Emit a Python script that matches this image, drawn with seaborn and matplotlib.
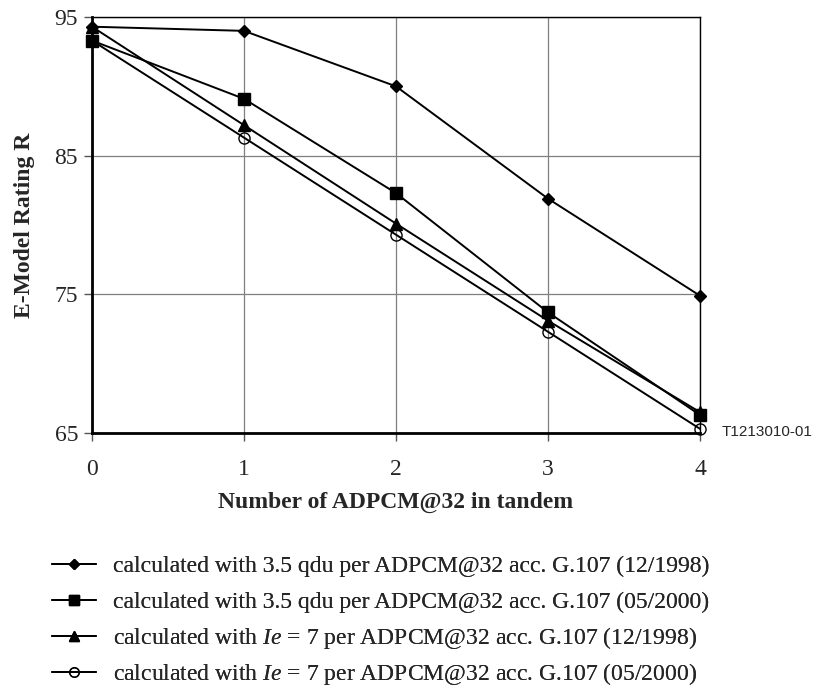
import matplotlib
matplotlib.use('Agg')
import matplotlib.pyplot as plt
import seaborn as sns
import pandas as pd

# data
tandem = [0, 1, 2, 3, 4]
qdu_1998 = [94.3, 94.0, 90.0, 81.9, 74.9]
qdu_2000 = [93.3, 89.1, 82.3, 73.7, 66.3]
ie_1998 = [94.3, 87.2, 80.1, 73.1, 66.5]
ie_2000 = [93.3, 86.3, 79.3, 72.3, 65.3]

labels = [
    'calculated with 3.5 qdu per ADPCM@32 acc. G.107 (12/1998)',
    'calculated with 3.5 qdu per ADPCM@32 acc. G.107 (05/2000)',
    'calculated with $Ie$ = 7 per ADPCM@32 acc. G.107 (12/1998)',
    'calculated with $Ie$ = 7 per ADPCM@32 acc. G.107 (05/2000)',
]
series = [qdu_1998, qdu_2000, ie_1998, ie_2000]
markers = ['D', 's', '^', 'o']
msizes = [6, 8, 8, 8]
facecolors = ['black', 'black', 'black', 'none']

sns.set_style('white')
plt.rcParams['font.family'] = ['Liberation Serif', 'DejaVu Serif']
plt.rcParams['mathtext.fontset'] = 'custom'
plt.rcParams['mathtext.it'] = 'Liberation Serif:italic'
plt.rcParams['mathtext.rm'] = 'Liberation Serif'

FS = 17

fig = plt.figure(figsize=(8.16, 6.9), dpi=100)
ax = fig.add_axes([92 / 816, 1 - 433 / 690, 608 / 816, 416 / 690])

for vals, lab, m, ms, fc in zip(series, labels, markers, msizes, facecolors):
    df = pd.DataFrame({'x': tandem, 'y': vals})
    sns.lineplot(data=df, x='x', y='y', ax=ax, color='black', linewidth=1.4,
                 marker=m, markersize=ms, markerfacecolor=fc,
                 markeredgecolor='black', markeredgewidth=1.0, label=lab,
                 clip_on=False, zorder=3)

ax.set_xlim(0, 4)
ax.set_ylim(65, 95)
ax.set_xticks(tandem)
ax.set_yticks([65, 75, 85, 95])
ax.grid(True, color='#7f7f7f', linewidth=0.9)
ax.set_axisbelow(True)
for side in ['top', 'right']:
    ax.spines[side].set_linewidth(1.0)
    ax.spines[side].set_color('black')
for side in ['left', 'bottom']:
    ax.spines[side].set_linewidth(2.0)
    ax.spines[side].set_color('black')
ax.tick_params(axis='both', which='major', bottom=True, left=True,
               direction='out', length=6, width=1, color='#555555',
               labelsize=FS)
ax.tick_params(axis='x', pad=13)
ax.tick_params(axis='y', pad=4)
ax.set_xlabel('Number of ADPCM@32 in tandem', fontsize=FS, fontweight='bold', labelpad=8)
ax.set_ylabel('E-Model Rating R', fontsize=FS, fontweight='bold', labelpad=14)

fig.text(722 / 816, 1 - 432 / 690, 'T1213010-01', family='Liberation Sans',
         fontsize=11, va='center', ha='left')

# one legend per row so the rows are evenly spaced
handles, labs = ax.get_legend_handles_labels()
ax.get_legend().remove()
row_y = [566, 602, 638, 674]
for h, lab, y in zip(handles, labs, row_y):
    leg = fig.legend([h], [lab], loc='center left', bbox_to_anchor=(52 / 816, 1 - y / 690),
                     frameon=False, fontsize=FS, handlelength=1.85, handletextpad=0.75,
                     borderpad=0, borderaxespad=0, markerscale=0.85)
    fig.add_artist(leg)

fig.savefig('out.png', dpi=100)
